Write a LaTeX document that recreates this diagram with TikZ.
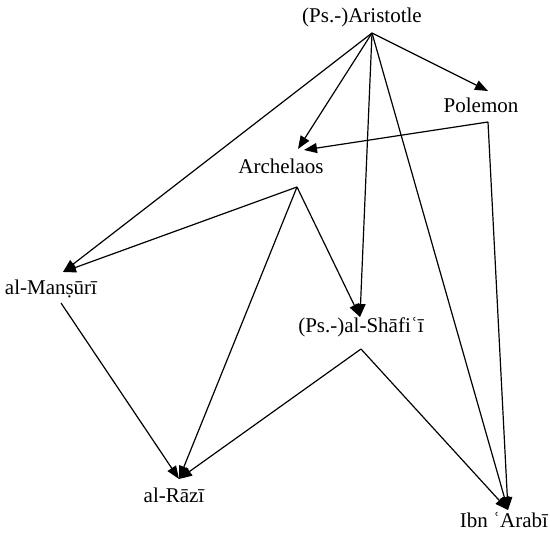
\documentclass[tikz,border=0pt]{standalone}
\usepackage{fontspec}
\setmainfont{Liberation Serif}
\usetikzlibrary{arrows.meta}
\tikzset{
  lbl/.style={anchor=base, inner sep=0pt, font=\fontsize{21}{25}\selectfont},
  edge/.style={line width=1.2pt, -{Triangle[length=13pt,width=10pt]}}
}
\begin{document}
\begin{tikzpicture}[x=1pt,y=-1pt]
\useasboundingbox (0,0) rectangle (550,536);
% nodes
\node[lbl] (ari) at (362,22) {(Ps.-)Aristotle};
\node[lbl] (pol) at (481,112) {Polemon};
\node[lbl] (arch) at (281,173) {Archelaos};
\node[lbl] (man) at (51,294) {al-Manṣūrī};
\node[lbl] (sha) at (361,332) {(Ps.-)al-Shāfiʿī};
\node[lbl] (razi) at (174,502) {al-Rāzī};
\node[lbl] (ibn) at (504,527) {Ibn ʿArabī};
% ports
\coordinate (ariOut) at (372,33);
\coordinate (polIn) at (488,91);
\coordinate (polOut) at (488,122);
\coordinate (archIn) at (298,149);
\coordinate (archIn2) at (304,150);
\coordinate (archOut) at (297,187);
\coordinate (manIn) at (63,272);
\coordinate (manOut) at (61,303);
\coordinate (shaIn) at (360,317);
\coordinate (shaOut) at (361,349);
\coordinate (raziIn) at (179,479);
\coordinate (ibnIn) at (508,510);
% edges
\draw[edge] (ariOut) -- (polIn);
\draw[edge] (ariOut) -- (archIn);
\draw[edge] (ariOut) -- (manIn);
\draw[edge] (ariOut) -- (shaIn);
\draw[edge] (ariOut) -- (ibnIn);
\draw[edge] (polOut) -- (archIn2);
\draw[edge] (polOut) -- (ibnIn);
\draw[edge] (archOut) -- (manIn);
\draw[edge] (archOut) -- (shaIn);
\draw[edge] (archOut) -- (raziIn);
\draw[edge] (manOut) -- (raziIn);
\draw[edge] (shaOut) -- (raziIn);
\draw[edge] (shaOut) -- (ibnIn);
\end{tikzpicture}
\end{document}
